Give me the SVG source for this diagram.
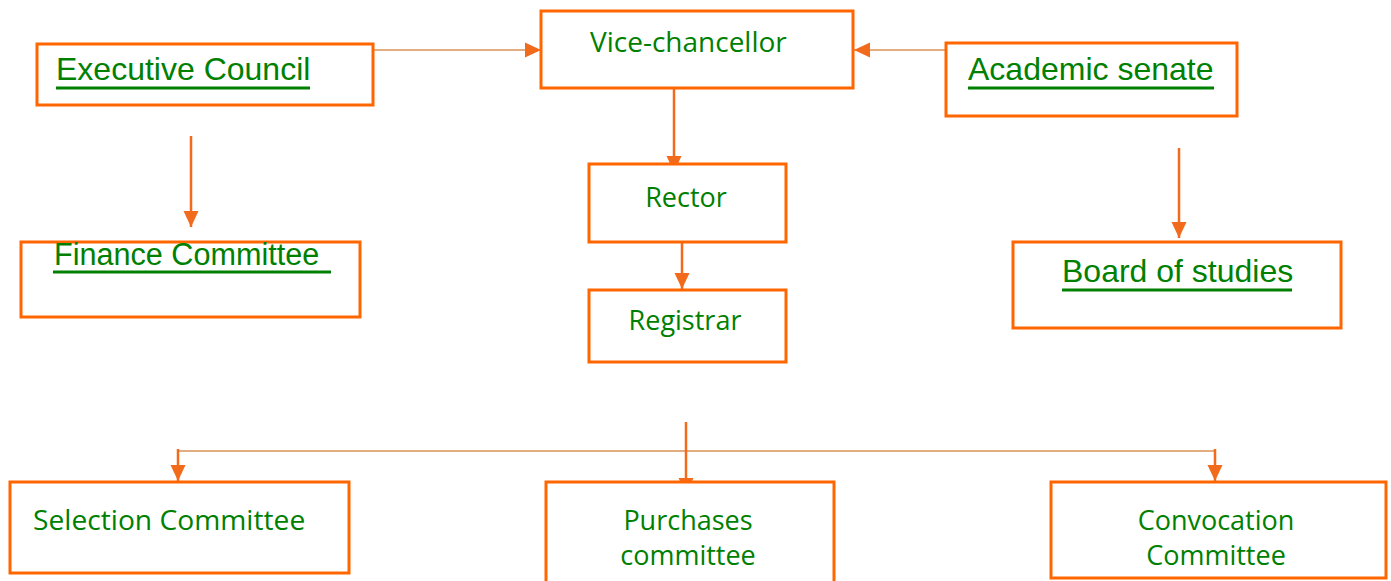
<svg xmlns="http://www.w3.org/2000/svg" width="1391" height="581" viewBox="0 0 1391 581">
<style>
.box{fill:#fff;stroke:#FF6600;stroke-width:3}
.ar{font-family:"Liberation Sans",Arial,sans-serif;font-size:32px;fill:#008000}
.cb{font-family:"Open Sans","Noto Sans",sans-serif;font-size:27px;fill:#008000}
.ul{stroke:#008000;stroke-width:3}
.thick{stroke:#F26A1B;stroke-width:2.5;fill:none}
.thin{stroke:#DA9259;stroke-width:1.5;fill:none}
</style>
<defs>
<marker id="ah" markerUnits="userSpaceOnUse" markerWidth="16" markerHeight="16" viewBox="0 0 16 16" refX="16" refY="8" orient="auto">
<path d="M0,0.5 L16,8 L0,15.5 Z" fill="#F26A1B"/>
</marker>
</defs>
<rect width="1391" height="581" fill="#fff"/>
<g id="connectors">
<line class="thin" x1="372" y1="50" x2="541" y2="50" marker-end="url(#ah)"/>
<line class="thin" x1="947" y1="50" x2="854" y2="50" marker-end="url(#ah)"/>
<line class="thick" x1="674" y1="80" x2="674" y2="172" marker-end="url(#ah)"/>
<line class="thick" x1="682" y1="237" x2="682" y2="289" marker-end="url(#ah)"/>
<line class="thick" x1="191" y1="136" x2="191" y2="227" marker-end="url(#ah)"/>
<line class="thick" x1="1179" y1="148" x2="1179" y2="238" marker-end="url(#ah)"/>
<line class="thin" x1="178" y1="451" x2="1215" y2="451"/>
<line class="thick" x1="686" y1="422" x2="686" y2="494" marker-end="url(#ah)"/>
<line class="thick" x1="178" y1="449" x2="178" y2="481" marker-end="url(#ah)"/>
<line class="thick" x1="1215" y1="449" x2="1215" y2="481" marker-end="url(#ah)"/>
</g>
<g id="executive-council">
<rect class="box" x="37" y="44" width="336" height="61"/>
<text class="ar" x="56" y="80">Executive Council</text>
<line class="ul" x1="56" y1="88" x2="310" y2="88"/>
</g>
<g id="vice-chancellor">
<rect class="box" x="541" y="11" width="312" height="77"/>
<text class="cb" x="590" y="52" style="font-size:28px">Vice-chancellor</text>
</g>
<g id="academic-senate">
<rect class="box" x="946" y="43" width="291" height="73"/>
<text class="ar" x="968" y="80">Academic senate</text>
<line class="ul" x1="968" y1="88" x2="1214" y2="88"/>
</g>
<g id="finance-committee">
<rect class="box" x="21" y="242" width="339" height="75"/>
<text class="ar" x="54" y="265" style="font-size:30.6px">Finance Committee</text>
<line class="ul" x1="53" y1="272" x2="331" y2="272"/>
</g>
<g id="rector">
<rect class="box" x="589" y="164" width="197" height="78"/>
<text class="cb" x="686" y="207" text-anchor="middle">Rector</text>
</g>
<g id="registrar">
<rect class="box" x="589" y="290" width="197" height="72"/>
<text class="cb" x="685" y="330" text-anchor="middle">Registrar</text>
</g>
<g id="board-of-studies">
<rect class="box" x="1013" y="242" width="328" height="86"/>
<text class="ar" x="1062" y="282">Board of studies</text>
<line class="ul" x1="1062" y1="290" x2="1292" y2="290"/>
</g>
<g id="selection-committee">
<rect class="box" x="10" y="482" width="339" height="91"/>
<text class="cb" x="33" y="530" style="font-size:28.2px">Selection Committee</text>
</g>
<g id="purchases-committee">
<rect class="box" x="546" y="482" width="288" height="105"/>
<text class="cb" x="688" y="530" text-anchor="middle">Purchases</text>
<text class="cb" x="688" y="565" text-anchor="middle">committee</text>
</g>
<g id="convocation-committee">
<rect class="box" x="1051" y="482" width="335" height="96"/>
<text class="cb" x="1216" y="530" text-anchor="middle">Convocation</text>
<text class="cb" x="1216" y="565" text-anchor="middle">Committee</text>
</g>
</svg>
